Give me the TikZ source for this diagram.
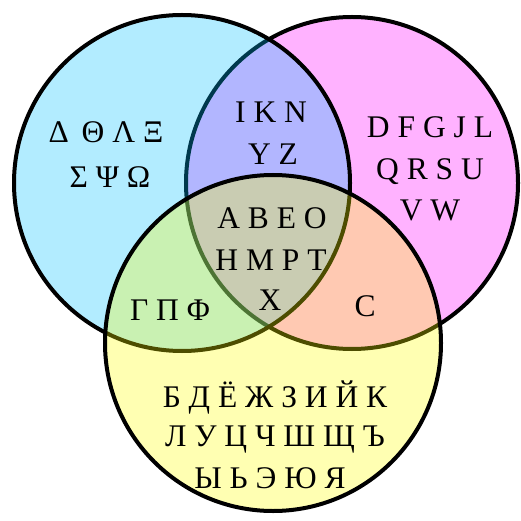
\documentclass[tikz,border=0pt]{standalone}
\usepackage{fontspec}
\setmainfont{Liberation Serif}
\definecolor{cA}{RGB}{0,191,255}
\definecolor{cB}{RGB}{255,0,255}
\definecolor{cC}{RGB}{255,255,0}
\tikzset{
  setc/.style={line width=4pt, fill opacity=0.3, draw opacity=1},
  lbl/.style={anchor=base, inner sep=0pt, font=\fontsize{31.5}{42}\selectfont, text=black}
}
\begin{document}
\begin{tikzpicture}[x=1pt,y=-1pt]
\useasboundingbox (0,0) rectangle (520,521);
\begin{scope}
\clip (0,0) rectangle (520,521);
\filldraw[setc, fill=cB] (352,183) circle[radius=166pt];
\filldraw[setc, fill=cA] (182,183) circle[radius=168pt];
\filldraw[setc, fill=cC] (273,343) circle[radius=168pt];
\end{scope}
\node[lbl] (g1) at (106,143) {Δ\hspace{5pt} Θ Λ Ξ};
\node[lbl] (g2) at (110,188) {Σ Ψ Ω};
\node[lbl] (i1) at (271,123) {I K N};
\node[lbl] (i2) at (273,165) {Y Z};
\node[lbl] (r1) at (430,138) {D F G J L};
\node[lbl] (r2) at (430,180) {Q R S U};
\node[lbl] (r3) at (430,220) {V W};
\node[lbl] (c1) at (272,228) {A B E O};
\node[lbl] (c2) at (271,270) {H M P T};
\node[lbl] (c3) at (270,310) {X};
\node[lbl] (lb) at (170,320) {Γ Π Φ};
\node[lbl] (rb) at (365,316) {C};
\node[lbl] (y1) at (275,407) {Б Д Ё Ж З И Й К};
\node[lbl] (y2) at (275,446) {Л У Ц Ч Ш Щ Ъ};
\node[lbl] (y3) at (270,488) {Ы Ь Э Ю Я};
\end{tikzpicture}
\end{document}
